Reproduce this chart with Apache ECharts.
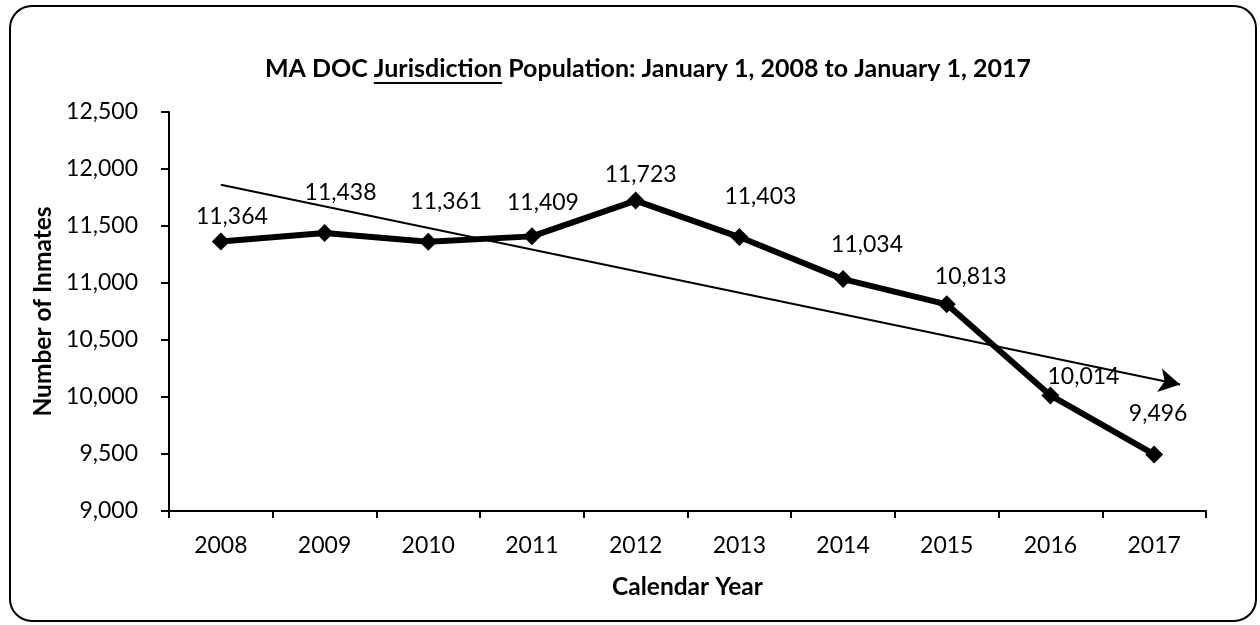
<!DOCTYPE html>
<html>
<head>
<meta charset="utf-8">
<script src="https://cdn.jsdelivr.net/npm/echarts@6/dist/echarts.min.js"></script>
<style>
  html, body { margin: 0; padding: 0; background: #fff; }
  #chart { width: 1260px; height: 625px; }
</style>
</head>
<body>
<div id="chart"></div>
<script>
// Jurisdiction population on January 1 of each year
const years = ['2008', '2009', '2010', '2011', '2012', '2013', '2014', '2015', '2016', '2017'];
const inmates = [11364, 11438, 11361, 11409, 11723, 11403, 11034, 10813, 10014, 9496];

// Hand-drawn downward trend arrow: [category position, inmates]
const trendStart = [0, 11862];
const trendEnd = [9.25, 10110];

// Value axis range
const yMin = 9000;
const yMax = 12500;
const yStep = 500;

const titlePre = 'MA DOC ';
const titleWord = 'Jurisdiction';
const titlePost = ' Population: January 1, 2008 to January 1, 2017';

const FONT = 'Lato, "Open Sans", sans-serif';
const TICK_SIZE = 23;
const NAME_SIZE = 24.5;
const TITLE_SIZE = 25;

// Label nudges (px) from each marker's centre
const labelNudge = [
  [11, -25], [16, -40], [18, -40], [11, -34], [5, -26],
  [21, -40], [24, -35], [24, -28], [33, -19], [4, -41]
];

const chart = echarts.init(document.getElementById('chart'), null, { renderer: 'canvas' });

// Measure title pieces so the underline sits under the one word
const ctx = document.createElement('canvas').getContext('2d');
ctx.font = 'bold ' + TITLE_SIZE + 'px ' + FONT;
const wPre = ctx.measureText(titlePre).width;
const wWord = ctx.measureText(titleWord).width;
const wAll = ctx.measureText(titlePre + titleWord + titlePost).width;
const titleCx = 648;
const titleLeft = titleCx - wAll / 2;

const fmt = v => Number(v).toLocaleString('en-US');

chart.setOption({
  animation: false,
  backgroundColor: '#ffffff',
  textStyle: { fontFamily: FONT, color: '#000' },
  grid: { left: 169, right: 54, top: 112, bottom: 114 },
  xAxis: [
    {
      type: 'category',
      data: years,
      boundaryGap: true,
      name: 'Calendar Year',
      nameLocation: 'middle',
      nameGap: 64,
      nameTextStyle: { fontFamily: FONT, fontWeight: 'bold', fontSize: NAME_SIZE, color: '#000' },
      axisLine: { onZero: false, lineStyle: { color: '#000', width: 2 } },
      axisTick: { show: true, length: 7, interval: 0, lineStyle: { color: '#000', width: 2 } },
      axisLabel: { margin: 23, fontSize: TICK_SIZE, color: '#000', fontFamily: FONT, interval: 0 },
      splitLine: { show: false }
    },
    {
      type: 'value',
      min: -0.5,
      max: 9.5,
      show: false
    }
  ],
  yAxis: {
    type: 'value',
    min: yMin,
    max: yMax,
    interval: yStep,
    name: 'Number of Inmates',
    nameLocation: 'middle',
    nameGap: 111,
    nameRotate: 90,
    nameTextStyle: { fontFamily: FONT, fontWeight: 'bold', fontSize: NAME_SIZE, color: '#000' },
    axisLine: { show: true, onZero: false, lineStyle: { color: '#000', width: 2 } },
    axisTick: { show: true, length: 8, lineStyle: { color: '#000', width: 2 } },
    axisLabel: { margin: 31, fontSize: TICK_SIZE, color: '#000', fontFamily: FONT, formatter: fmt },
    splitLine: { show: false }
  },
  series: [
    {
      name: 'Trend',
      type: 'line',
      xAxisIndex: 1,
      data: [trendStart, trendEnd],
      showSymbol: false,
      symbol: 'none',
      lineStyle: { opacity: 0 },
      silent: true,
      z: 1,
      markLine: {
        silent: true,
        animation: false,
        symbol: ['none', 'arrow'],
        symbolSize: [18, 21],
        lineStyle: { color: '#000', width: 2, type: 'solid' },
        itemStyle: { color: '#000' },
        label: { show: false },
        emphasis: { disabled: true },
        data: [[{ coord: trendStart }, { coord: trendEnd }]]
      }
    },
    {
      name: 'Inmates',
      type: 'line',
      data: inmates.map((v, i) => ({
        value: v,
        label: { offset: labelNudge[i] }
      })),
      symbol: 'diamond',
      symbolSize: 18,
      showAllSymbol: true,
      z: 3,
      lineStyle: { color: '#000', width: 6 },
      itemStyle: { color: '#000' },
      label: {
        show: true,
        position: 'inside',
        color: '#000',
        fontSize: TICK_SIZE,
        fontFamily: FONT,
        formatter: p => fmt(p.value)
      }
    }
  ],
  graphic: [
    {
      type: 'rect',
      silent: true,
      shape: { x: 10, y: 6, width: 1246, height: 615, r: 22 },
      style: { fill: 'none', stroke: '#000', lineWidth: 2 },
      z: 0
    },
    {
      type: 'text',
      silent: true,
      x: titleLeft,
      y: 69,
      style: {
        text: titlePre + titleWord + titlePost,
        font: 'bold ' + TITLE_SIZE + 'px ' + FONT,
        fill: '#000',
        align: 'left',
        verticalAlign: 'middle'
      }
    },
    {
      type: 'line',
      silent: true,
      shape: { x1: titleLeft + wPre, y1: 83, x2: titleLeft + wPre + wWord, y2: 83 },
      style: { stroke: '#000', lineWidth: 2 }
    }
  ]
});
</script>
</body>
</html>
